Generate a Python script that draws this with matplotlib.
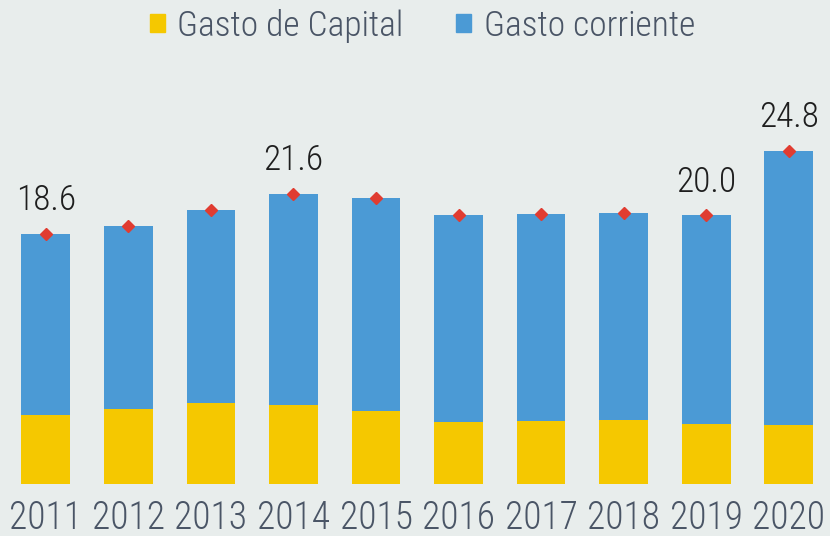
import matplotlib.pyplot as plt
from matplotlib import font_manager
from matplotlib.font_manager import FontProperties
from matplotlib.patches import Patch

years = ["2011", "2012", "2013", "2014", "2015", "2016", "2017", "2018", "2019", "2020"]
gasto_total = [18.6, 19.2, 20.4, 21.6, 21.3, 20.0, 20.1, 20.2, 20.0, 24.8]
gasto_capital = [5.1, 5.6, 6.0, 5.9, 5.4, 4.6, 4.7, 4.8, 4.5, 4.4]
labelled = {0: "18.6", 3: "21.6", 8: "20.0", 9: "24.8"}

gasto_corriente = [t - c for t, c in zip(gasto_total, gasto_capital)]

# look for a narrow face, the original uses a condensed one
prefs = ["robotocondensed-light", "robotocondensed-regular", "robotocondensed",
         "liberationsansnarrow-regular", "dejavusanscondensed.ttf", "condensed-light",
         "condensed-regular", "condensed", "narrow"]
files = [f.fname for f in font_manager.fontManager.ttflist]
font_file = None
for p in prefs:
    hits = [f for f in files if p in f.lower().replace(" ", "").replace("_", "")
            and "italic" not in f.lower() and "bold" not in f.lower() and "oblique" not in f.lower()]
    if hits:
        font_file = sorted(hits)[0]
        break


def fp(size):
    if font_file:
        return FontProperties(fname=font_file, size=size)
    return FontProperties(family="DejaVu Sans", size=size * 0.8)


bg = "#e8edec"
yellow = "#f5c800"
blue = "#4b9ad5"
grey_text = "#4a5566"

fig = plt.figure(figsize=(8.3, 5.36), dpi=100, facecolor=bg)
ax = fig.add_axes([0.0055, 0.097, 0.9945, 0.752], facecolor=bg)

x = list(range(len(years)))
ax.bar(x, gasto_capital, width=0.59, color=yellow)
ax.bar(x, gasto_corriente, width=0.59, bottom=gasto_capital, color=blue)
ax.plot(x, gasto_total, linestyle="none", marker="D", markersize=6.5, color="#e03c31")

for i, txt in labelled.items():
    ax.annotate(txt, (x[i], gasto_total[i]), xytext=(0, 17), textcoords="offset points",
                ha="center", va="baseline", fontproperties=fp(25.5), color="#1e1e1e")

ax.set_xlim(-0.5, 9.5)
ax.set_ylim(0, 30)
ax.set_xticks(x)
ax.set_xticklabels(years, fontproperties=fp(27), color=grey_text)
ax.tick_params(axis="x", length=0, pad=11)
ax.set_yticks([])
for s in ax.spines.values():
    s.set_visible(False)

handles = [Patch(color=yellow, label="Gasto de Capital"),
           Patch(color=blue, label="Gasto corriente")]
fig.legend(handles=handles, loc="center", bbox_to_anchor=(0.509, 0.952), ncol=2,
           frameon=False, prop=fp(25.5), labelcolor=grey_text, handlelength=0.42,
           handleheight=0.42, handletextpad=0.35, columnspacing=1.5)

fig.savefig("out.png", dpi=100, facecolor=bg)
